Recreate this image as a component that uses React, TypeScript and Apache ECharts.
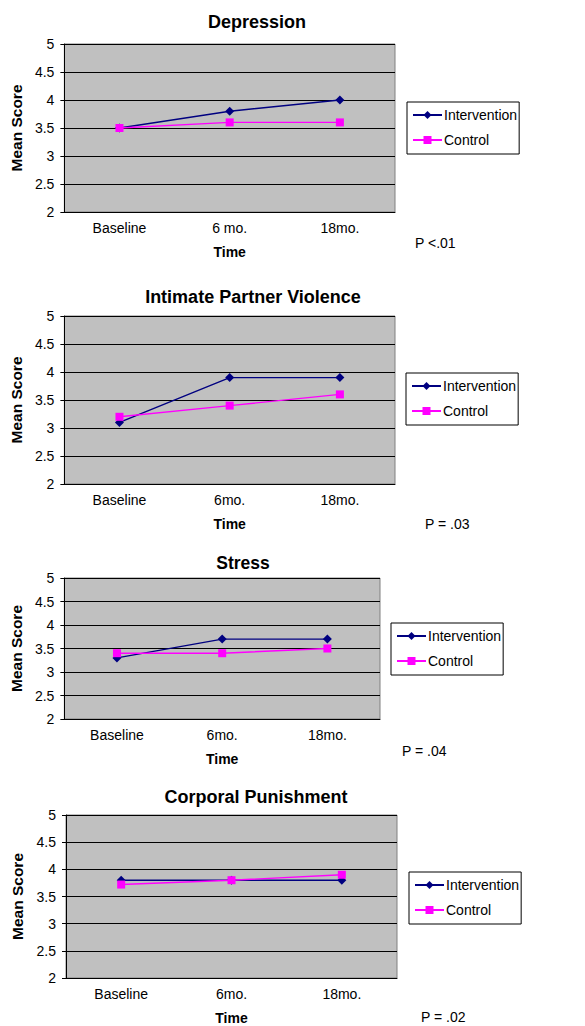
import React, { useEffect, useRef } from "react";
import * as echarts from "echarts";

const FONT = 'Arial, "Liberation Sans", sans-serif';

const titles = ["Depression", "Intimate Partner Violence", "Stress", "Corporal Punishment"];
const categoriesDepression = ["Baseline", "6 mo.", "18mo."];
const categoriesOther = ["Baseline", "6mo.", "18mo."];
const categories = [categoriesDepression, categoriesOther, categoriesOther, categoriesOther];
const yTicks = [2, 2.5, 3, 3.5, 4, 4.5, 5];

const interventionDepression = [3.5, 3.8, 4.0];
const controlDepression = [3.5, 3.6, 3.6];
const interventionIPV = [3.1, 3.9, 3.9];
const controlIPV = [3.2, 3.4, 3.6];
const interventionStress = [3.3, 3.7, 3.7];
const controlStress = [3.4, 3.4, 3.5];
const interventionCorporal = [3.8, 3.8, 3.8];
const controlCorporal = [3.72, 3.8, 3.9];

const interventionSeries = [interventionDepression, interventionIPV, interventionStress, interventionCorporal];
const controlSeries = [controlDepression, controlIPV, controlStress, controlCorporal];
const pValues = ["P <.01", "P = .03", "P = .04", "P = .02"];

// layout (pixels)
const grids = [
  { left: 64, top: 44, width: 331, height: 168 },
  { left: 64, top: 316, width: 331, height: 168 },
  { left: 60, top: 578, width: 320, height: 141 },
  { left: 66, top: 815, width: 331, height: 168 },
];
const titlePos = [
  { x: 257, y: 22, size: 18 },
  { x: 253, y: 297, size: 18 },
  { x: 243, y: 563, size: 17.5 },
  { x: 256, y: 797, size: 18 },
];
const legendPos = [
  { left: 407, top: 102 },
  { left: 406, top: 373 },
  { left: 391, top: 623 },
  { left: 409, top: 872 },
];
const pPos = [
  { x: 415, y: 243 },
  { x: 425, y: 524 },
  { x: 402, y: 751 },
  { x: 421, y: 1017 },
];

const NAVY = "#000080";
const MAGENTA = "#FF00FF";

export default function App() {
  const ref = useRef<HTMLDivElement>(null);
  useEffect(() => {
    if (!ref.current) return;
    const chart = echarts.init(ref.current, undefined, { renderer: "svg" });
    const grid: any[] = [];
    const xAxis: any[] = [];
    const yAxis: any[] = [];
    const series: any[] = [];
    const legend: any[] = [];
    const graphic: any[] = [];
    for (let i = 0; i < 4; i++) {
      const g = grids[i];
      grid.push({
        left: g.left,
        top: g.top,
        width: g.width,
        height: g.height,
        show: true,
        backgroundColor: "#C0C0C0",
        borderColor: "#808080",
        borderWidth: 1,
        containLabel: false,
      });
      xAxis.push({
        type: "category",
        gridIndex: i,
        data: categories[i],
        boundaryGap: true,
        name: "Time",
        nameLocation: "middle",
        nameGap: 33,
        nameTextStyle: { fontFamily: FONT, fontSize: 14, fontWeight: "bold", color: "#000" },
        axisLine: { show: true, lineStyle: { color: "#000", width: 1 } },
        axisTick: { show: false },
        axisLabel: { fontFamily: FONT, fontSize: 14, color: "#000", margin: 9 },
        splitLine: { show: false },
      });
      yAxis.push({
        type: "value",
        gridIndex: i,
        min: yTicks[0],
        max: yTicks[yTicks.length - 1],
        interval: 0.5,
        name: "Mean Score",
        nameLocation: "middle",
        nameRotate: 90,
        nameGap: 40,
        nameTextStyle: { fontFamily: FONT, fontSize: 15.5, fontWeight: "bold", color: "#000" },
        axisLine: { show: true, lineStyle: { color: "#000", width: 1 } },
        axisTick: { show: true, length: 4, lineStyle: { color: "#000" } },
        axisLabel: { fontFamily: FONT, fontSize: 14, color: "#000", margin: 10 },
        splitLine: { show: true, lineStyle: { color: "#000", width: 1 } },
      });
      series.push({
        name: "Intervention",
        type: "line",
        xAxisIndex: i,
        yAxisIndex: i,
        data: interventionSeries[i],
        symbol: "diamond",
        symbolSize: 9,
        color: NAVY,
        itemStyle: { color: NAVY },
        lineStyle: { color: NAVY, width: 1.4 },
        z: 3,
      });
      series.push({
        name: "Control",
        type: "line",
        xAxisIndex: i,
        yAxisIndex: i,
        data: controlSeries[i],
        symbol: "rect",
        symbolSize: 8,
        color: MAGENTA,
        itemStyle: { color: MAGENTA },
        lineStyle: { color: MAGENTA, width: 1.4 },
        z: 4,
      });
      legend.push({
        left: legendPos[i].left,
        top: legendPos[i].top,
        orient: "vertical",
        data: ["Intervention", "Control"],
        selectedMode: false,
        borderColor: "#000",
        borderWidth: 1,
        backgroundColor: "#fff",
        borderRadius: 0,
        padding: [6, 2, 7, 5],
        itemGap: 11,
        itemWidth: 29,
        itemHeight: 10,
        textStyle: { fontFamily: FONT, fontSize: 14, color: "#000", padding: [0, 0, 0, -3] },
      });
      graphic.push({
        type: "text",
        x: titlePos[i].x,
        y: titlePos[i].y,
        style: {
          text: titles[i],
          fontFamily: FONT,
          fontSize: titlePos[i].size,
          fontWeight: "bold",
          fill: "#000",
          align: "center",
          verticalAlign: "middle",
        },
      });
      graphic.push({
        type: "text",
        x: pPos[i].x,
        y: pPos[i].y,
        style: {
          text: pValues[i],
          fontFamily: FONT,
          fontSize: 14,
          fill: "#000",
          align: "left",
          verticalAlign: "middle",
        },
      });
    }
    chart.setOption({
      animation: false,
      backgroundColor: "#fff",
      grid,
      xAxis,
      yAxis,
      series,
      legend,
      graphic,
    });
    return () => chart.dispose();
  }, []);
  return (
    <div
      ref={ref}
      style={{ position: "absolute", left: 0, top: 0, width: 585, height: 1026 }}
    />
  );
}
